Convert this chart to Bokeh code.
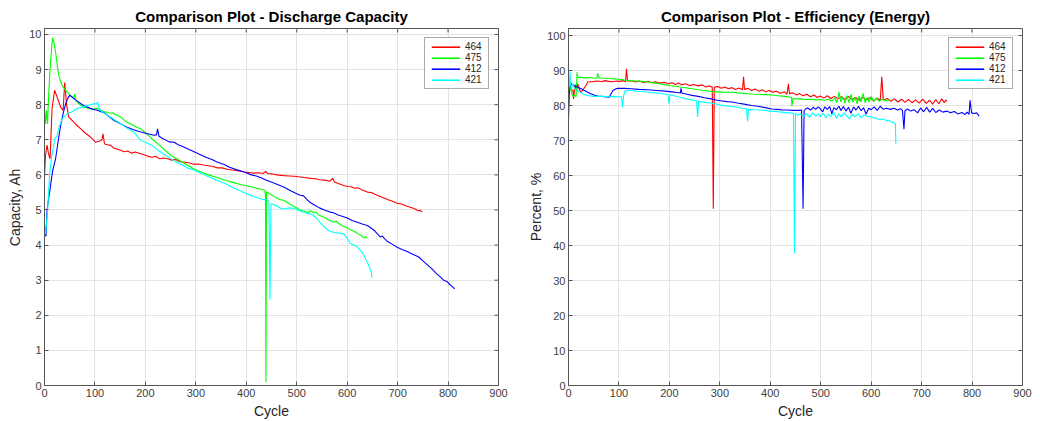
from bokeh.plotting import figure
from bokeh.layouts import row
from bokeh.models import FixedTicker, Range1d
from bokeh.embed import file_html
from bokeh.resources import INLINE

# ---------------- data ----------------
series_names = ["464", "475", "412", "421"]
series_colors = ["#ff0000", "#00ff00", "#0000ff", "#00ffff"]
x_ticks = [0, 100, 200, 300, 400, 500, 600, 700, 800, 900]
cap_ticks = [0, 1, 2, 3, 4, 5, 6, 7, 8, 9, 10]
eff_ticks = [0, 10, 20, 30, 40, 50, 60, 70, 80, 90, 100]

# Discharge capacity (cycle, Ah)
cap_464 = [(0,5.95),(2,6.55),(5,6.85),(8,6.6),(11,6.46),(15,7.89),(20,8.41),(25,8.22),(32,7.93),(37,7.84),
           (40,8.63),(44,7.98),(48,7.65),(58,7.5),(65,7.4),(72,7.31),(80,7.2),(91,7.08),(101,6.93),(108,6.96),
           (114,7.0),(116,7.17),(119,6.88),(125,6.86),(131,6.84),(138,6.76),(145,6.73),(151,6.7),(158,6.66),
           (165,6.68),(172,6.62),(180,6.65),(191,6.6),(200,6.56),(207,6.52),(213,6.5),(220,6.53),(228,6.46),
           (236,6.48),(244,6.46),(252,6.42),(260,6.44),(268,6.38),(279,6.36),(288,6.34),(296,6.3),(305,6.31),
           (315,6.28),(325,6.26),(334,6.24),(343,6.2),(352,6.2),(362,6.16),(372,6.14),(383,6.12),(396,6.08),
           (405,6.07),(415,6.05),(425,6.06),(433,6.04),(437,6.08),(439,6.1),(442,6.04),(450,6.03),(460,6.0),
           (475,5.98),(485,5.97),(495,5.96),(507,5.94),(518,5.92),(528,5.9),(538,5.89),(545,5.86),(555,5.85),
           (566,5.82),(571,5.9),(575,5.8),(585,5.74),(593,5.7),(600,5.67),(608,5.66),(615,5.62),(622,5.63),
           (630,5.57),(640,5.51),(648,5.5),(655,5.45),(663,5.4),(672,5.35),(680,5.3),(690,5.25),(699,5.19),
           (708,5.17),(716,5.12),(725,5.08),(733,5.04),(741,4.98),(745,4.99),(749,4.94)]
cap_475 = [(0,7.9),(2,7.46),(4,7.84),(6,7.45),(8,8.2),(11,9.0),(14,9.6),(16,9.91),(19,9.75),(22,9.5),
           (25,9.15),(28,8.84),(31,8.7),(35,8.55),(40,8.45),(45,8.36),(52,8.25),(58,8.17),(60,8.31),(63,8.1),
           (70,8.0),(78,7.93),(88,7.9),(98,7.88),(105,7.89),(115,7.82),(125,7.77),(135,7.76),(144,7.7),
           (152,7.64),(158,7.56),(164,7.5),(175,7.42),(183,7.36),(191,7.31),(200,7.2),(208,7.1),(215,7.0),
           (230,6.82),(250,6.56),(265,6.44),(279,6.31),(295,6.18),(310,6.08),(325,6.0),(343,5.92),(360,5.84),
           (375,5.78),(390,5.72),(409,5.67),(420,5.62),(430,5.59),(437,5.56),(438,5.4),(439,0.1),(440,5.52),
           (448,5.45),(458,5.36),(466,5.3),(475,5.27),(485,5.18),(495,5.1),(507,5.0),(515,4.97),(522,4.92),
           (527,4.98),(534,4.92),(538,4.95),(543,4.86),(550,4.82),(556,4.78),(562,4.72),(567,4.7),(573,4.65),
           (578,4.68),(585,4.6),(590,4.55),(600,4.49),(608,4.43),(615,4.38),(622,4.32),(630,4.25),(634,4.2),
           (637,4.24),(639,4.2)]
cap_412 = [(0,4.6),(1,4.3),(3,4.25),(5,5.0),(8,5.3),(12,5.7),(16,6.1),(22,6.46),(27,6.95),(32,7.41),
           (37,7.75),(42,8.03),(46,8.18),(50,8.27),(55,8.22),(60,8.15),(65,8.1),(75,8.0),(85,7.93),(95,7.87),
           (105,7.84),(112,7.8),(118,7.77),(128,7.66),(138,7.55),(150,7.46),(164,7.36),(178,7.28),(191,7.22),
           (205,7.17),(217,7.13),(222,7.14),(224,7.31),(227,7.1),(235,7.03),(247,6.94),(257,6.93),(265,6.86),
           (275,6.8),(290,6.7),(305,6.6),(320,6.5),(332,6.44),(343,6.36),(355,6.3),(367,6.22),(380,6.15),
           (396,6.08),(410,6.0),(420,5.97),(429,5.92),(440,5.85),(452,5.78),(463,5.72),(475,5.65),(488,5.55),
           (500,5.46),(507,5.42),(513,5.41),(520,5.3),(526,5.22),(535,5.14),(545,5.06),(556,4.99),(566,4.94),
           (573,4.92),(582,4.86),(590,4.82),(600,4.77),(610,4.7),(620,4.65),(630,4.6),(640,4.56),(648,4.48),
           (655,4.4),(660,4.32),(666,4.23),(670,4.26),(673,4.2),(680,4.1),(690,4.02),(699,3.94),(710,3.87),
           (720,3.81),(730,3.74),(742,3.66),(750,3.55),(758,3.45),(768,3.32),(776,3.2),(784,3.1),(792,2.99),
           (798,2.96),(804,2.87),(809,2.81),(813,2.75)]
cap_421 = [(0,4.4),(2,4.3),(4,4.6),(7,5.2),(10,6.0),(14,6.5),(20,7.0),(25,7.13),(30,7.4),(35,7.6),
           (45,7.74),(55,7.8),(65,7.89),(75,7.93),(85,7.98),(92,8.0),(98,8.03),(103,8.02),(105,8.08),(108,7.9),
           (111,7.84),(118,7.76),(125,7.7),(138,7.58),(151,7.46),(164,7.33),(177,7.22),(185,7.08),(191,6.98),
           (200,6.93),(213,6.84),(225,6.7),(240,6.56),(257,6.4),(270,6.3),(283,6.2),(297,6.13),(310,6.05),
           (325,5.95),(343,5.84),(360,5.74),(376,5.62),(392,5.52),(409,5.41),(420,5.36),(430,5.31),(439,5.29),
           (445,5.25),(447,2.45),(449,5.18),(455,5.15),(462,5.1),(468,5.05),(475,5.03),(485,5.06),(495,5.05),
           (505,4.98),(515,4.93),(526,4.89),(533,4.85),(540,4.75),(548,4.62),(556,4.5),(562,4.42),(569,4.38),
           (576,4.36),(584,4.34),(593,4.32),(600,4.2),(606,4.05),(613,4.0),(620,3.95),(626,3.85),(632,3.75),
           (637,3.58),(641,3.48),(644,3.38),(646,3.3),(648,3.2),(649,3.07)]

# Energy efficiency (cycle, %)
eff_464 = [(0,85),(3,87),(6,84.5),(9,84.3),(10,81.9),(13,86),(16,84),(18,86.2),(22,84.5),(25,83.8),
           (29,84.5),(32,85.2),(35,85.8),(38,86.7),(45,86.8),(52,86.9),(58,87),(65,86.8),(72,87.1),(80,86.9),
           (88,86.8),(95,87),(102,86.9),(108,87.1),(113,86.8),(115,90.5),(117,87),(125,87),(133,86.7),(140,87),
           (148,86.6),(158,86.9),(165,86.5),(172,86.8),(180,86.4),(191,86.6),(198,86.2),(205,86.5),(212,86),
           (218,86.4),(224,85.9),(232,86.2),(240,85.7),(248,86),(257,85.6),(265,85.9),(272,85.3),(280,85.6),
           (285,85.2),(287,50.5),(289,85.2),(296,85.4),(303,84.9),(310,85.3),(317,84.8),(324,85.1),(331,84.6),
           (338,85),(345,84.5),(347,88.2),(349,84.6),(356,84.9),(363,84.3),(370,84.7),(377,84.1),(384,84.5),
           (391,83.9),(398,84.3),(405,83.8),(412,84.1),(420,83.5),(428,83.9),(433,83.2),(436,86.2),(438,83.4),
           (445,83.6),(452,83),(458,83.4),(465,82.8),(472,83.2),(480,82.5),(487,83),(493,82.3),(499,82.7),
           (506,82.1),(513,82.8),(520,82),(527,82.6),(534,81.9),(541,82.5),(548,81.8),(555,82.6),(562,81.7),
           (569,82.3),(576,81.5),(583,82.4),(590,81.6),(598,82.2),(605,81.4),(612,82.1),(618,81.5),(621,88.2),
           (624,81.6),(632,82),(639,81.2),(646,81.9),(653,81),(660,81.8),(667,80.9),(674,81.7),(681,80.8),
           (688,81.6),(695,80.7),(702,81.8),(709,80.6),(716,81.5),(722,80.4),(728,81.7),(734,80.5),(740,81.9),
           (745,80.8),(748,81.6),(750,81.2)]
eff_475 = [(0,86),(1,88),(3,84),(5,86),(7,83),(9,82.5),(12,83),(15,82.5),(17,89.5),(18,88),(24,88.1),
           (30,87.9),(38,87.9),(45,88),(52,87.8),(57,87.9),(58,89.2),(61,87.9),(70,87.8),(80,87.7),(91,87.6),
           (100,87.5),(110,87.3),(124,87.1),(135,87),(145,86.9),(158,86.7),(170,86.4),(180,86.2),(191,85.9),
           (200,85.7),(212,85.5),(224,85.2),(235,85),(245,84.8),(257,84.5),(268,84.3),(278,84.1),(290,83.9),
           (300,83.9),(312,83.8),(324,83.8),(335,83.6),(348,83.5),(363,83.3),(375,83.2),(390,83.1),(403,83),
           (415,82.8),(429,82.6),(435,82.5),(442,82.3),(443,79.8),(445,82),(452,81.9),(460,81.9),(470,81.7),
           (480,81.8),(490,81.6),(499,81.7),(508,81.5),(515,81.8),(522,81.2),(528,82.2),(532,80.8),(536,83.8),
           (540,81),(544,82.5),(548,80.6),(552,82.8),(556,80.8),(560,83.2),(564,80.9),(568,82.4),(572,80.5),
           (576,82.7),(580,81),(584,83.5),(588,80.8),(592,82.3),(596,81),(600,82.6),(605,81.1),(610,82.1),
           (616,81.2),(622,81.9),(628,81.3),(633,81.6),(638,81.4)]
eff_412 = [(0,76.2),(2,85),(5,86.3),(10,85.8),(14,85.5),(18,85.2),(25,84.8),(32,84.3),(38,83.8),(45,83.3),
           (52,82.9),(58,82.7),(65,82.6),(72,82.5),(81,82.4),(85,83.5),(88,84.3),(93,84.7),(98,84.9),(110,84.9),
           (124,84.8),(140,84.6),(158,84.5),(175,84.3),(191,84.1),(205,83.9),(215,83.7),(222,83.6),(223,84.9),
           (225,83.5),(235,83.2),(245,82.9),(257,82.6),(270,82.2),(283,81.9),(295,81.5),(305,81.3),(315,81.1),
           (324,81),(335,80.7),(348,80.4),(363,80),(375,79.8),(390,79.4),(403,79),(415,78.9),(425,78.7),
           (435,78.7),(445,78.6),(456,78.6),(462,78.7),(465,50.5),(467,78.5),(470,79),(474,79.3),(480,78.7),
           (485,79.5),(490,78.9),(495,79.6),(499,79.1),(504,78.2),(508,79.6),(513,78.9),(518,79.7),(522,77.6),
           (526,79.4),(531,78.8),(536,79.8),(540,78.6),(545,79.7),(550,78.4),(555,79.5),(560,77.8),(565,79.6),
           (570,78.7),(575,79.8),(580,78.5),(585,79.4),(590,77.5),(595,79.2),(600,78.8),(606,79.6),(612,78.6),
           (618,79.8),(624,78.9),(630,79.2),(638,78.9),(645,79.2),(652,78.7),(658,79.1),(662,78.6),(665,73.2),
           (667,78.5),(672,79),(678,78.4),(685,78.8),(692,77.9),(698,79.3),(704,78.2),(710,79.5),(716,78.1),
           (722,79.2),(728,78),(735,78.7),(742,78.1),(750,78.4),(757,77.9),(765,78.3),(772,77.6),(780,78),
           (786,77.4),(790,78.1),(794,77.5),(796,81.5),(799,77.9),(804,77.7),(809,77.9),(812,77.4),(814,76.9)]
eff_421 = [(0,84),(2,86),(3,89.7),(4,86),(6,85),(8,86.2),(12,84.8),(18,84.3),(25,83.6),(32,83.1),(40,82.8),
           (50,82.6),(58,82.6),(70,82.6),(80,82.5),(91,82.6),(100,82.5),(105,82.4),(107,79.5),(109,82.6),
           (112,84.2),(118,84.3),(124,84.3),(135,84.1),(145,84),(158,83.8),(170,83.6),(180,83.5),(191,83.3),
           (197,83.1),(199,80.5),(201,83),(212,82.7),(224,82.2),(235,81.9),(245,81.6),(254,81.3),(256,76.7),
           (258,81.2),(270,80.9),(280,80.7),(290,80.5),(300,80.2),(310,79.9),(324,79.7),(335,79.5),(345,79.2),
           (353,79.0),(355,75.5),(357,78.9),(368,78.8),(380,78.7),(390,78.6),(400,78.4),(410,78.3),(423,78.1),
           (432,77.9),(440,77.9),(446,77.8),(448,37.8),(450,77.8),(455,77.2),(460,77.6),(466,76.8),(472,77.7),
           (478,76.6),(484,77.9),(490,77),(495,77.6),(499,76.8),(505,77.8),(510,76.5),(515,77.5),(520,76.9),
           (526,78),(531,76.4),(536,77.6),(541,76.7),(546,77.9),(552,77),(557,76.2),(562,77.5),(568,76.8),
           (574,77.6),(580,76.5),(586,77.3),(592,76.9),(598,76.8),(604,76.6),(610,76.2),(616,76.1),(620,75.9),
           (625,76.2),(630,75.6),(635,75.8),(640,75.2),(644,75.3),(646,74.8),(648,74.8),(649,69)]

FONT = "Liberation Sans"
TICK_COLOR = "#404040"
FRAME_COLOR = "#555555"
FRAME_PX_W = 454.0   # plot frame width in px
FRAME_PX_H = 357.0   # plot frame height in px
TICK_PX = 4.0


def make_fig(title, ylabel, yend, yticks, series, width, bl, br, ylabel_standoff):
    p = figure(width=width, height=421, output_backend="svg", toolbar_location=None,
               x_range=Range1d(0, 900), y_range=Range1d(0, yend),
               min_border_left=bl, min_border_right=br, min_border_top=28, min_border_bottom=0,
               title=title, background_fill_color="white", border_fill_color="white")
    p.title.text_font = FONT
    p.title.text_font_size = "15px"
    p.title.text_font_style = "bold"
    p.title.text_color = "black"
    p.title.align = "center"
    p.title.standoff = 7
    p.outline_line_color = FRAME_COLOR
    p.outline_line_width = 1

    p.xaxis.ticker = FixedTicker(ticks=x_ticks)
    p.yaxis.ticker = FixedTicker(ticks=yticks)
    p.xaxis.axis_label = "Cycle"
    p.yaxis.axis_label = ylabel
    for ax in (p.xaxis[0], p.yaxis[0]):
        ax.axis_label_text_font = FONT
        ax.axis_label_text_font_size = "14px"
        ax.axis_label_text_font_style = "normal"
        ax.axis_label_text_color = "#262626"
        ax.axis_label_standoff = 3
        ax.major_label_text_font = FONT
        ax.major_label_text_font_size = "11px"
        ax.major_label_text_color = TICK_COLOR
        ax.major_label_standoff = 3
        ax.major_tick_in = 4
        ax.major_tick_out = 0
        ax.major_tick_line_color = FRAME_COLOR
        ax.minor_tick_line_color = None
        ax.axis_line_color = FRAME_COLOR
    p.yaxis[0].axis_label_standoff = ylabel_standoff

    p.grid.grid_line_color = "#e3e3e3"
    p.grid.grid_line_width = 1
    p.xgrid.ticker = FixedTicker(ticks=x_ticks)
    p.ygrid.ticker = FixedTicker(ticks=yticks)

    # MATLAB-style box: short inward ticks on the right and top edges
    xmax = 900.0
    dx = TICK_PX * xmax / FRAME_PX_W
    dy = TICK_PX * yend / FRAME_PX_H
    p.segment(x0=[xmax] * len(yticks), x1=[xmax - dx] * len(yticks), y0=yticks, y1=yticks,
              line_color=FRAME_COLOR, line_width=1)
    p.segment(x0=x_ticks, x1=x_ticks, y0=[yend] * len(x_ticks), y1=[yend - dy] * len(x_ticks),
              line_color=FRAME_COLOR, line_width=1)

    for name, color, data in zip(series_names, series_colors, series):
        xs = [d[0] for d in data]
        ys = [d[1] for d in data]
        p.line(xs, ys, line_color=color, line_width=1.1)
        # legend swatch (thin filled bar), kept outside the visible range
        p.rect(x=[-1000], y=[-1000], width=1, height=1, fill_color=color,
               line_color=color, line_width=0.5, legend_label=name)

    lg = p.legend[0]
    lg.location = "top_right"
    lg.margin = 9
    lg.padding = 3
    lg.spacing = 0
    lg.label_text_font = FONT
    lg.label_text_font_size = "10px"
    lg.label_text_color = "#262626"
    lg.label_height = 11
    lg.label_standoff = 2
    lg.glyph_width = 35
    lg.glyph_height = 2
    lg.border_line_color = FRAME_COLOR
    lg.border_line_width = 1
    lg.background_fill_alpha = 1.0
    return p


p1 = make_fig("Comparison Plot - Discharge Capacity", "Capacity, Ah", 10.17, cap_ticks,
              [cap_464, cap_475, cap_412, cap_421], 524, 44, 26, 3)
p2 = make_fig("Comparison Plot - Efficiency (Energy)", "Percent, %", 102, eff_ticks,
              [eff_464, eff_475, eff_412, eff_421], 508, 44, 10, 0)

layout = row(p1, p2)
open("out.html", "w").write(file_html(layout, INLINE))
